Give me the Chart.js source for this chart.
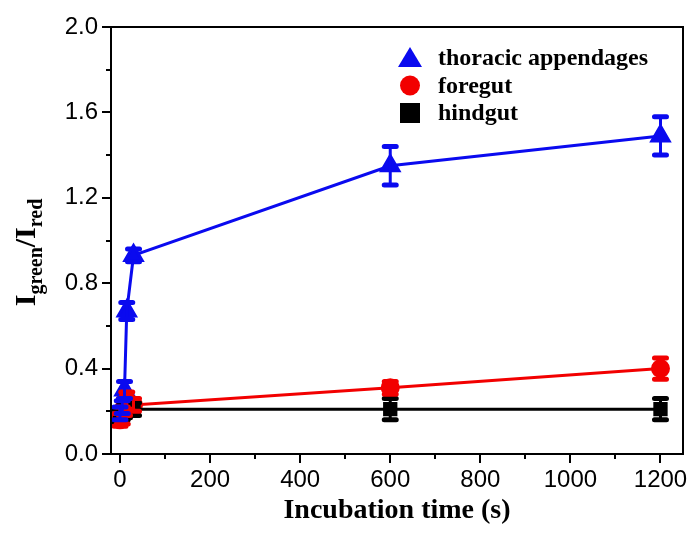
<!DOCTYPE html>
<html>
<head>
<meta charset="utf-8">
<script src="https://cdn.jsdelivr.net/npm/chart.js@4.4.0/dist/chart.umd.min.js"></script>
<style>
  html, body { margin: 0; padding: 0; background: #fff; }
  #wrap { width: 692px; height: 536px; }
</style>
</head>
<body>
<div id="wrap"><canvas id="myChart" width="692" height="536"></canvas></div>
<script>
// incubation times (s)
const times = [0, 5, 10, 15, 30, 600, 1200];

const thoracic = [0.19, 0.22, 0.30, 0.67, 0.93, 1.35, 1.49];
const thoracicErr = [0.03, 0.03, 0.04, 0.04, 0.03, 0.09, 0.09];

const foregut = [0.16, 0.18, 0.22, 0.25, 0.23, 0.31, 0.40];
const foregutErr = [0.03, 0.04, 0.04, 0.04, 0.03, 0.03, 0.05];

const hindgut = [0.18, 0.19, 0.20, 0.21, 0.21, 0.21, 0.21];
const hindgutErr = [0.03, 0.03, 0.03, 0.03, 0.03, 0.05, 0.05];

const xTicks = [0, 200, 400, 600, 800, 1000, 1200];
const yTicks = [0.0, 0.4, 0.8, 1.2, 1.6, 2.0];

const BLUE = '#0a0aef';
const RED = '#f20000';
const BLACK = '#000000';

const toPoints = (vals, errs) => vals.map((v, i) => ({ x: times[i], y: v, err: errs[i] }));

// error bars with fat caps
const errorBars = {
    id: 'errorBars',
    afterDatasetsDraw(chart) {
        const { ctx, scales: { x, y } } = chart;
        chart.data.datasets.forEach((ds, di) => {
            if (!chart.isDatasetVisible(di)) return;
            ctx.save();
            ctx.strokeStyle = ds.borderColor;
            ds.data.forEach(p => {
                const px = x.getPixelForValue(p.x);
                const top = y.getPixelForValue(p.y + p.err);
                const bot = y.getPixelForValue(p.y - p.err);
                ctx.lineWidth = 3;
                ctx.lineCap = 'butt';
                ctx.beginPath();
                ctx.moveTo(px, top);
                ctx.lineTo(px, bot);
                ctx.stroke();
                ctx.lineWidth = 5;
                ctx.lineCap = 'round';
                ctx.beginPath();
                ctx.moveTo(px - 6, top); ctx.lineTo(px + 6, top);
                ctx.moveTo(px - 6, bot); ctx.lineTo(px + 6, bot);
                ctx.stroke();
            });
            ctx.restore();
        });
    }
};

// frame, minor ticks, y title with subscripts, legend
const decorations = {
    id: 'decorations',
    afterDraw(chart) {
        const { ctx, chartArea: a, scales: { x, y } } = chart;
        ctx.save();
        ctx.strokeStyle = '#000';
        ctx.lineWidth = 2;
        ctx.strokeRect(a.left, a.top, a.right - a.left, a.bottom - a.top);

        // minor ticks
        ctx.lineWidth = 2;
        ctx.beginPath();
        for (let v = 0.2; v < 2.0; v += 0.4) {
            const py = Math.round(y.getPixelForValue(v));
            ctx.moveTo(a.left, py); ctx.lineTo(a.left - 5, py);
        }
        for (let v = 100; v < 1250; v += 200) {
            const px = Math.round(x.getPixelForValue(v));
            ctx.moveTo(px, a.bottom); ctx.lineTo(px, a.bottom + 5);
        }
        ctx.stroke();

        // y title: I_green / I_red
        const parts = [
            { t: 'I', size: 30, dy: 0 },
            { t: 'green', size: 20, dy: 7 },
            { t: '/', size: 30, dy: 0 },
            { t: 'I', size: 30, dy: 0 },
            { t: 'red', size: 20, dy: 7 }
        ];
        let total = 0;
        parts.forEach(p => {
            ctx.font = 'bold ' + p.size + 'px "Liberation Serif"';
            p.w = ctx.measureText(p.t).width;
            total += p.w;
        });
        ctx.translate(35, (a.top + a.bottom) / 2 + 12);
        ctx.rotate(-Math.PI / 2);
        ctx.fillStyle = '#000';
        ctx.textBaseline = 'alphabetic';
        let cx = -total / 2;
        parts.forEach(p => {
            ctx.font = 'bold ' + p.size + 'px "Liberation Serif"';
            ctx.fillText(p.t, cx, p.dy);
            cx += p.w;
        });
        ctx.restore();

        // legend
        ctx.save();
        const items = [
            { label: 'thoracic appendages', color: BLUE, shape: 'triangle' },
            { label: 'foregut', color: RED, shape: 'circle' },
            { label: 'hindgut', color: BLACK, shape: 'rect' }
        ];
        const lx = 410, ly0 = 58, step = 27.5;
        ctx.font = 'bold 24px "Liberation Serif"';
        ctx.textBaseline = 'middle';
        items.forEach((it, i) => {
            const cy = ly0 + i * step;
            ctx.fillStyle = it.color;
            ctx.beginPath();
            if (it.shape === 'triangle') {
                ctx.moveTo(lx, cy - 11); ctx.lineTo(lx + 12, cy + 9); ctx.lineTo(lx - 12, cy + 9);
                ctx.closePath();
            } else if (it.shape === 'circle') {
                ctx.arc(lx, cy, 10, 0, Math.PI * 2);
            } else {
                ctx.rect(lx - 10, cy - 10, 20, 20);
            }
            ctx.fill();
            ctx.fillStyle = '#000';
            ctx.fillText(it.label, lx + 28, cy + 1);
        });
        ctx.restore();
    }
};

const canvas = document.getElementById('myChart');
new Chart(canvas, {
    type: 'line',
    data: {
        datasets: [
            {
                label: 'hindgut',
                data: toPoints(hindgut, hindgutErr),
                borderColor: BLACK, backgroundColor: BLACK,
                pointStyle: 'rect', pointRadius: 8, borderWidth: 3
            },
            {
                label: 'foregut',
                data: toPoints(foregut, foregutErr),
                borderColor: RED, backgroundColor: RED,
                pointStyle: 'circle', pointRadius: 8, borderWidth: 3
            },
            {
                label: 'thoracic appendages',
                data: toPoints(thoracic, thoracicErr),
                borderColor: BLUE, backgroundColor: BLUE,
                pointStyle: 'triangle', pointRadius: 10, borderWidth: 3
            }
        ]
    },
    options: {
        responsive: false,
        animation: false,
        layout: { autoPadding: false, padding: { left: 0, right: 9, top: 27, bottom: 0 } },
        plugins: { legend: { display: false }, tooltip: { enabled: false } },
        elements: { line: { tension: 0 }, point: { borderWidth: 0 } },
        scales: {
            x: {
                type: 'linear',
                min: -20, max: 1250,
                afterBuildTicks: s => { s.ticks = xTicks.map(v => ({ value: v })); },
                afterFit: s => { s.height = 82; s.paddingRight = 0; s.paddingLeft = 0; },
                border: { color: '#000', width: 2 },
                grid: { drawOnChartArea: false, color: '#000', lineWidth: 2, tickLength: 9 },
                ticks: {
                    color: '#000', padding: 3, maxRotation: 0,
                    callback: v => String(v),
                    font: { family: '"Liberation Sans"', size: 24 }
                },
                title: {
                    display: true, text: 'Incubation time (s)', color: '#000',
                    font: { family: '"Liberation Serif"', size: 28, weight: 'bold' },
                    padding: { top: 2, bottom: 8 }
                }
            },
            y: {
                min: 0, max: 2.0,
                afterBuildTicks: s => { s.ticks = yTicks.map(v => ({ value: v })); },
                afterFit: s => { s.width = 111; s.paddingTop = 0; s.paddingBottom = 0; },
                border: { color: '#000', width: 2 },
                grid: { drawOnChartArea: false, color: '#000', lineWidth: 2, tickLength: 9 },
                ticks: {
                    color: '#000', padding: 4,
                    callback: v => v.toFixed(1),
                    font: { family: '"Liberation Sans"', size: 24 }
                }
            }
        }
    },
    plugins: [errorBars, decorations]
});
</script>
</body>
</html>
